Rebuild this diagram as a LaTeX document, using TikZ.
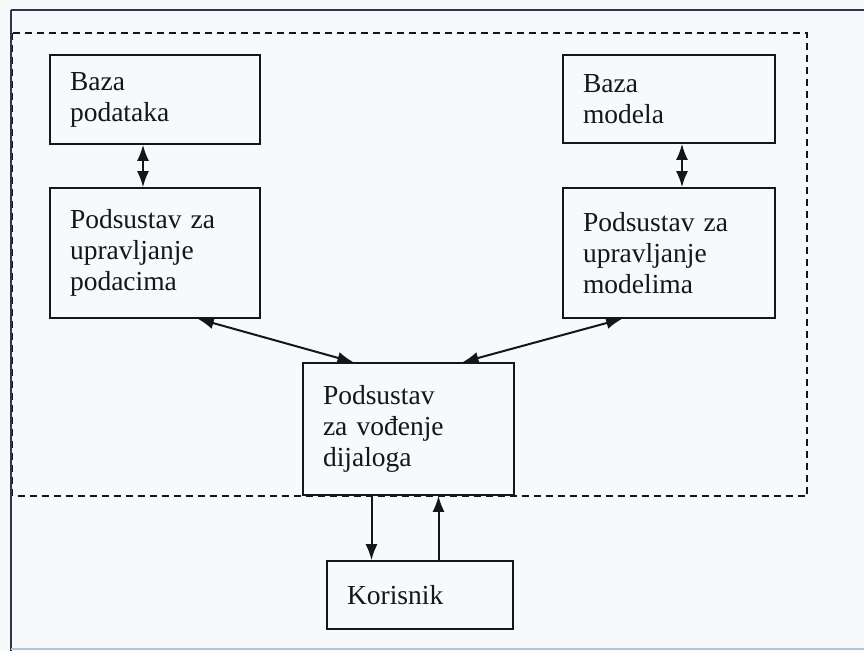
\documentclass[tikz,border=0pt]{standalone}
\usepackage{fontspec}
\setmainfont{Liberation Serif}
\usepackage{tikz}
\usetikzlibrary{arrows.meta}
\usetikzlibrary{calc}

\definecolor{paper}{RGB}{247,249,251}
\definecolor{ink}{RGB}{20,22,30}
\definecolor{frameblue}{RGB}{44,54,78}
\definecolor{edgeblue}{RGB}{176,196,220}

\tikzset{
    blok/.style={draw=ink, line width=1.6pt, fill=paper, inner sep=0pt, align=left,
        font=\fontsize{27.5pt}{31pt}\selectfont, text=ink},
    veza/.style={draw=ink, line width=2pt, {Latex[length=16pt,width=12pt]}-{Latex[length=16pt,width=12pt]}},
    tok/.style={draw=ink, line width=2pt, -{Latex[length=16pt,width=12pt]}}
}

\begin{document}
\begin{tikzpicture}[x=1pt,y=-1pt]
        \fill[paper](0,0) rectangle (864,651);
        \useasboundingbox (0,0) rectangle (864,651);
        \draw[frameblue,line width=1.8pt](11,10)--(864,10);
        \draw[frameblue,line width=1.8pt](11,10)--(11,651);
        \draw[edgeblue,line width=2pt](11,649)--(864,649);
        \draw[ink,line width=1.4pt,dash pattern=on 7pt off 5pt](12.5,33) rectangle (807,496);
        \node[blok,minimum width=210pt,minimum height=89pt,text width=170pt] (bazapod) at (155,99.5) {Baza\\podataka};
        \node[blok,minimum width=210pt,minimum height=130pt,text width=170pt] (uprpod) at (155,253) {Podsustav za\\upravljanje\\podacima};
        \node[blok,minimum width=212pt,minimum height=88pt,text width=172pt] (bazamod) at (669,99) {Baza\\modela};
        \node[blok,minimum width=212pt,minimum height=130pt,text width=172pt] (uprmod) at (669,253) {Podsustav za\\upravljanje\\modelima};
        \node[blok,minimum width=211pt,minimum height=132pt,text width=171pt] (dijalog) at (408.5,429) {Podsustav\\za vođenje\\dijaloga};
        \node[blok,minimum width=186pt,minimum height=68pt,text width=146pt] (korisnik) at (420,595) {Korisnik};
        \draw[veza]([xshift=-12pt]bazapod.south)--([xshift=-12pt]uprpod.north);
        \draw[veza]([xshift=13pt]bazamod.south)--([xshift=13pt]uprmod.north);
        \draw[veza]([xshift=-63pt]uprpod.south east)--([xshift=-55pt]dijalog.north);
        \draw[veza]([xshift=60pt]uprmod.south west)--([xshift=54pt]dijalog.north);
        \draw[tok]([xshift=-37pt]dijalog.south)--([xshift=-37pt]dijalog.south |- korisnik.north);
        \draw[tok]([xshift=30pt]dijalog.south |- korisnik.north)--([xshift=30pt]dijalog.south);
    \end{tikzpicture}
\end{document}
